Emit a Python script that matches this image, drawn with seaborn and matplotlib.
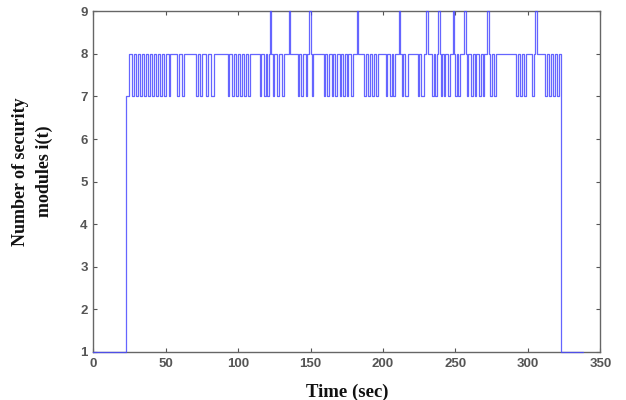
import matplotlib
matplotlib.use("Agg")
import matplotlib.pyplot as plt
import seaborn as sns
import pandas as pd

# ---- data ----
t_start, t_rise7, t_rise8 = 21, 22.5, 24.5   # ramp-up instants
t_fall, t_end = 323, 338                     # drop and end of record
level_idle, level_base = 1, 8
# intervals where i(t) dips to 7
dips7 = [(27, 28), (29.5, 31), (32.5, 33.5), (35, 36.5), (38, 39), (40.5, 42),
         (43.5, 44.5), (46, 47.5), (49, 50), (52, 53), (58, 59), (61, 62.5),
         (71, 72), (73.5, 75), (78, 79.5), (81, 83), (93, 94), (95.5, 97),
         (98.5, 100), (101.5, 102.5), (104, 105.5), (107, 108), (115, 116),
         (117.5, 119), (120, 121), (124, 125), (127, 128), (130, 131.5),
         (141, 142), (143.5, 145), (146.5, 147.5), (151, 152), (159, 160),
         (161.5, 163), (164.5, 165.5), (167, 168.5), (170, 171), (172.5, 174),
         (175, 176), (178, 179.5), (187, 188), (189.5, 191), (192.5, 193.5),
         (195, 196.5), (202, 203), (204.5, 206), (207, 208.5), (213, 214),
         (215.5, 217), (224, 225), (226.5, 228), (234, 235), (236, 237),
         (240, 241), (242, 243), (245, 246), (250, 251), (252, 253),
         (258, 259), (260.5, 262), (263.5, 264.5), (266, 267.5), (269, 270),
         (274, 275), (276.5, 278), (292, 293), (294.5, 296), (297.5, 299),
         (303, 304), (312, 313), (314.5, 316), (317, 318.5), (320, 321.5)]
# intervals where i(t) spikes to 9
spikes9 = [(122, 123), (135, 136), (149, 150), (182, 183), (211, 212),
           (230, 231), (238, 239), (248, 249), (256, 257), (272, 273),
           (305, 306)]

# ---- build the step series ----
events = [(0, level_idle), (t_start, level_idle), (t_rise7, 7), (t_rise8, level_base)]
changes = [(a, 7, b) for a, b in dips7] + [(a, 9, b) for a, b in spikes9]
changes.sort()
for a, v, b in changes:
    events.append((a, v))
    events.append((b, level_base))
events.append((t_fall, level_idle))
events.append((t_end, level_idle))
df = pd.DataFrame(events, columns=["time", "modules"])

# ---- plot ----
sns.set_theme(style="white")
fig = plt.figure(figsize=(6.26, 4.0), dpi=100)
ax = fig.add_axes([0.149, 0.12, 0.81, 0.852])
sns.lineplot(data=df, x="time", y="modules", ax=ax, sort=False, estimator=None,
             drawstyle="steps-post", color="#4a4aff", linewidth=0.9, alpha=0.85,
             zorder=3, clip_on=False)

ax.set_xlim(0, 350)
ax.set_ylim(1, 9)
ax.set_xticks(range(0, 351, 50))
ax.set_yticks(range(1, 10))
for s in ax.spines.values():
    s.set_color("#666666")
    s.set_linewidth(1.0)
ax.tick_params(direction="in", length=3, width=0.8, color="#555555",
               top=True, right=True, bottom=True, left=True,
               labelsize=9.5, labelcolor="#555555", pad=4)
for lab in ax.get_xticklabels() + ax.get_yticklabels():
    lab.set_fontweight("bold")
    lab.set_family("Liberation Sans")

ax.set_xlabel("Time (sec)", family="Liberation Serif", fontweight="bold",
              fontsize=13.5, color="#111111", labelpad=10)
ax.set_ylabel("Number of security\nmodules i(t)", family="Liberation Serif",
              fontweight="bold", fontsize=13, color="#111111",
              linespacing=1.5)
ax.yaxis.set_label_coords(-0.08, 0.53)

fig.savefig("out.png", dpi=100, facecolor="white")
